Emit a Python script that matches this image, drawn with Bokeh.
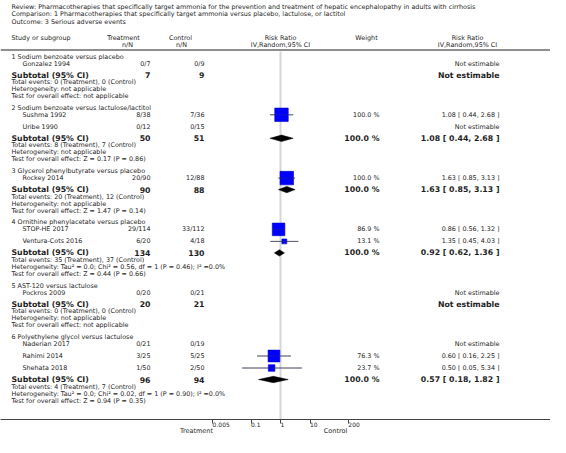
import math
from bokeh.plotting import figure
from bokeh.models import (Range1d, LogScale, LogAxis, LinearAxis, FixedTicker, Span,
                          ColumnDataSource, CustomJSTickFormatter)
from bokeh.core.properties import value
from bokeh.embed import file_html
from bokeh.resources import INLINE

# ---------------- data ----------------
title_lines = [
    "Review:  Pharmacotherapies that specifically target ammonia for the prevention and treatment of hepatic encephalopathy in adults with cirrhosis",
    "Comparison:  1 Pharmacotherapies that specifically target ammonia versus placebo, lactulose, or lactitol",
    "Outcome:  3 Serious adverse events",
]

subgroups = [
    "1 Sodium benzoate versus placebo",
    "2 Sodium benzoate versus lactulose/lactitol",
    "3 Glycerol phenylbutyrate versus placebo",
    "4 Ornithine phenylacetate versus placebo",
    "5 AST-120 versus lactulose",
    "6 Polyethylene glycol versus lactulose",
]

study_group = [0, 1, 1, 2, 3, 3, 4, 5, 5, 5]
study_names = ["Gonzalez 1994", "Sushma 1992", "Uribe 1990", "Rockey 2014", "STOP-HE 2017",
               "Ventura-Cots 2016", "Pockros 2009", "Naderian 2017", "Rahimi 2014", "Shehata 2018"]
study_treat = ["0/7", "8/38", "0/12", "20/90", "29/114", "6/20", "0/20", "0/21", "3/25", "1/50"]
study_ctrl = ["0/9", "7/36", "0/15", "12/88", "33/112", "4/18", "0/21", "0/19", "5/25", "2/50"]
study_rr = [None, 1.08, None, 1.63, 0.86, 1.35, None, None, 0.60, 0.50]
study_lo = [None, 0.44, None, 0.85, 0.56, 0.45, None, None, 0.16, 0.05]
study_hi = [None, 2.68, None, 3.13, 1.32, 4.03, None, None, 2.25, 5.34]
study_weight = [None, 100.0, None, 100.0, 86.9, 13.1, None, None, 76.3, 23.7]

sub_treat_n = [7, 50, 90, 134, 20, 96]
sub_ctrl_n = [9, 51, 88, 130, 21, 94]
sub_rr = [None, 1.08, 1.63, 0.92, None, 0.57]
sub_lo = [None, 0.44, 0.85, 0.62, None, 0.18]
sub_hi = [None, 2.68, 3.13, 1.36, None, 1.82]
sub_weight = [None, 100.0, 100.0, 100.0, None, 100.0]

total_events = [
    "Total events: 0 (Treatment), 0 (Control)",
    "Total events: 8 (Treatment), 7 (Control)",
    "Total events: 20 (Treatment), 12 (Control)",
    "Total events: 35 (Treatment), 37 (Control)",
    "Total events: 0 (Treatment), 0 (Control)",
    "Total events: 4 (Treatment), 7 (Control)",
]
heterogeneity = [
    "Heterogeneity: not applicable",
    "Heterogeneity: not applicable",
    "Heterogeneity: not applicable",
    "Heterogeneity: Tau² = 0.0; Chi² = 0.56, df = 1 (P = 0.46); I² =0.0%",
    "Heterogeneity: not applicable",
    "Heterogeneity: Tau² = 0.0; Chi² = 0.02, df = 1 (P = 0.90); I² =0.0%",
]
overall_effect = [
    "Test for overall effect: not applicable",
    "Test for overall effect: Z = 0.17 (P = 0.86)",
    "Test for overall effect: Z = 1.47 (P = 0.14)",
    "Test for overall effect: Z = 0.44 (P = 0.66)",
    "Test for overall effect: not applicable",
    "Test for overall effect: Z = 0.94 (P = 0.35)",
]

axis_ticks = [0.005, 0.1, 1, 10, 200]
favours_left = "Treatment"
favours_right = "Control"

# ---------------- layout (pixel coordinates of the picture) ----------------
W, H = 550, 437
FRAME_H = 419          # plot frame height; the axes fill the rest below
PX_PER_DECADE = 29.5
X_ONE = 280
X_FAV_LEFT, X_FAV_RIGHT = 196, 335

FONT = "DejaVu Sans"
FS = "6.4px"
FSB = "7.8px"
TXT = "#1e1e1e"

X_LEFT = 11
X_STUDY = 22
X_TREAT = 150
X_CTRL = 204
X_WEIGHT = 379
X_EFFECT = 499

GAP_HEADER, GAP_STUDY, GAP_SUB, GAP_LINE, GAP_GROUP = 7, 12, 11.5, 7, 11.8

group_y, study_y, sub_y, tot_y, het_y, test_y = [], [], [], [], [], []
y = 56
for g in range(len(subgroups)):
    group_y.append(y)
    members = [i for i, gg in enumerate(study_group) if gg == g]
    y += GAP_HEADER
    for k, i in enumerate(members):
        if k > 0:
            y += GAP_STUDY
        study_y.append(y)
    y += GAP_SUB
    sub_y.append(y)
    y += GAP_LINE
    tot_y.append(y)
    y += GAP_LINE
    het_y.append(y)
    y += GAP_LINE
    test_y.append(y)
    y += GAP_GROUP

p = figure(width=W, height=H, output_backend="svg", toolbar_location=None,
           x_range=Range1d(0, W), y_range=Range1d(FRAME_H, 0),
           x_axis_location=None, y_axis_location=None,
           min_border_left=0, min_border_right=0, min_border_top=0,
           min_border_bottom=H - FRAME_H)
p.outline_line_color = None
p.xgrid.visible = False
p.ygrid.visible = False
p.background_fill_color = "white"

lo_dec = (0 - X_ONE) / PX_PER_DECADE
hi_dec = (W - X_ONE) / PX_PER_DECADE
p.extra_x_ranges = {"rr": Range1d(10 ** lo_dec, 10 ** hi_dec)}
p.extra_x_scales = {"rr": LogScale()}

ax = LogAxis(x_range_name="rr", ticker=FixedTicker(ticks=axis_ticks, minor_ticks=[]),
             formatter=CustomJSTickFormatter(code="return String(tick)"))
ax.axis_line_color = "#444444"
ax.axis_line_width = 1
ax.major_tick_line_color = "#444444"
ax.major_tick_out = 4
ax.major_tick_in = 0
ax.minor_tick_out = 0
ax.minor_tick_in = 0
ax.major_label_orientation = -0.0001   # near-horizontal: labels start at their tick
ax.major_label_standoff = 1
ax.major_label_text_font = FONT
ax.major_label_text_font_size = "6px"
ax.major_label_text_color = TXT
p.add_layout(ax, "below")

# "favours" captions as a second, tick-less axis below the first
fav = LinearAxis(ticker=FixedTicker(ticks=[X_FAV_LEFT, X_FAV_RIGHT], minor_ticks=[]),
                 major_label_overrides={X_FAV_LEFT: favours_left, X_FAV_RIGHT: favours_right})
fav.axis_line_color = None
fav.major_tick_line_color = None
fav.minor_tick_line_color = None
fav.major_tick_out = 0
fav.major_tick_in = 0
fav.minor_tick_out = 0
fav.minor_tick_in = 0
fav.major_label_standoff = -6
fav.major_label_text_font = FONT
fav.major_label_text_font_size = "6.5px"
fav.major_label_text_color = TXT
p.add_layout(fav, "below")

# header rule
p.add_layout(Span(location=49.5, dimension="width", line_color="#6a6a6a", line_width=1.5))

# line of no effect
p.segment(x0=[1], x1=[1], y0=[51], y1=[FRAME_H], x_range_name="rr",
          line_color="#d6d6d6", line_width=2)


def txt(xs, ys, texts, align="left", size=FS, bold=False, color=TXT):
    src = ColumnDataSource(dict(x=list(xs), y=list(ys), t=list(texts)))
    p.text(x="x", y="y", text="t", source=src, text_align=align, text_baseline="middle",
           text_font=value(FONT), text_font_size=value(size),
           text_font_style="bold" if bold else "normal", text_color=color)


# title
txt([X_LEFT] * 3, [6, 13.5, 21], title_lines)
# column headers
txt([X_LEFT], [37], ["Study or subgroup"])
txt([123, 127, 180, 181], [37, 44, 37, 44], ["Treatment", "n/N", "Control", "n/N"], align="center")
txt([X_ONE, X_ONE, 366, 467, 467], [37, 44, 37, 37, 44],
    ["Risk Ratio", "IV,Random,95% CI", "Weight", "Risk Ratio", "IV,Random,95% CI"], align="center")

# subgroup headers and footers
txt([X_LEFT] * len(subgroups), group_y, subgroups)
txt([X_LEFT] * 6, tot_y, total_events)
txt([X_LEFT] * 6, het_y, heterogeneity)
txt([X_LEFT] * 6, test_y, overall_effect)

# studies
txt([X_STUDY] * len(study_names), study_y, study_names)
txt([X_TREAT] * len(study_treat), study_y, study_treat, align="right")
txt([X_CTRL] * len(study_ctrl), study_y, study_ctrl, align="right")
eff_txt = [("Not estimable" if r is None else f"{r:.2f} [ {l:.2f}, {h:.2f} ]")
           for r, l, h in zip(study_rr, study_lo, study_hi)]
txt([X_EFFECT] * len(eff_txt), study_y, eff_txt, align="right")
w_idx = [i for i, w in enumerate(study_weight) if w is not None]
txt([X_WEIGHT] * len(w_idx), [study_y[i] for i in w_idx],
    [f"{study_weight[i]:.1f} %" for i in w_idx], align="right")

# subtotals
txt([X_LEFT] * 6, sub_y, ["Subtotal (95% CI)"] * 6, size=FSB, bold=True)
txt([X_TREAT] * 6, sub_y, [str(n) for n in sub_treat_n], align="right", size=FSB, bold=True)
txt([X_CTRL] * 6, sub_y, [str(n) for n in sub_ctrl_n], align="right", size=FSB, bold=True)
sub_eff = [("Not estimable" if r is None else f"{r:.2f} [ {l:.2f}, {h:.2f} ]")
           for r, l, h in zip(sub_rr, sub_lo, sub_hi)]
txt([X_EFFECT] * 6, sub_y, sub_eff, align="right", size=FSB, bold=True)
sw_idx = [i for i, w in enumerate(sub_weight) if w is not None]
txt([X_WEIGHT] * len(sw_idx), [sub_y[i] for i in sw_idx],
    [f"{sub_weight[i]:.1f} %" for i in sw_idx], align="right", size=FSB, bold=True)

# study markers
MAX_SQ = 13.5
est = [i for i, r in enumerate(study_rr) if r is not None]
mk = ColumnDataSource(dict(
    rr=[study_rr[i] for i in est], lo=[study_lo[i] for i in est], hi=[study_hi[i] for i in est],
    y=[study_y[i] for i in est],
    s=[MAX_SQ * math.sqrt(study_weight[i] / 100.0) for i in est]))
p.segment(x0="lo", x1="hi", y0="y", y1="y", source=mk, x_range_name="rr",
          line_color="#808080", line_width=1)
p.scatter(x="rr", y="y", size="s", marker="square", source=mk, x_range_name="rr",
          fill_color="#0000ff", line_color="#0000c8", line_width=0.6)
p.segment(x0="lo", x1="hi", y0="y", y1="y", source=mk, x_range_name="rr",
          line_color="#303060", line_width=0.8, line_alpha=0.55)

# subtotal diamonds
DH = 3.2
d_idx = [i for i, r in enumerate(sub_rr) if r is not None]
xs = [[sub_lo[i], sub_rr[i], sub_hi[i], sub_rr[i]] for i in d_idx]
ys = [[sub_y[i], sub_y[i] - DH, sub_y[i], sub_y[i] + DH] for i in d_idx]
p.patches(xs=xs, ys=ys, x_range_name="rr", fill_color="#000000", line_color="#000000", line_width=0.5)

open("out.html", "w").write(file_html(p, INLINE))
